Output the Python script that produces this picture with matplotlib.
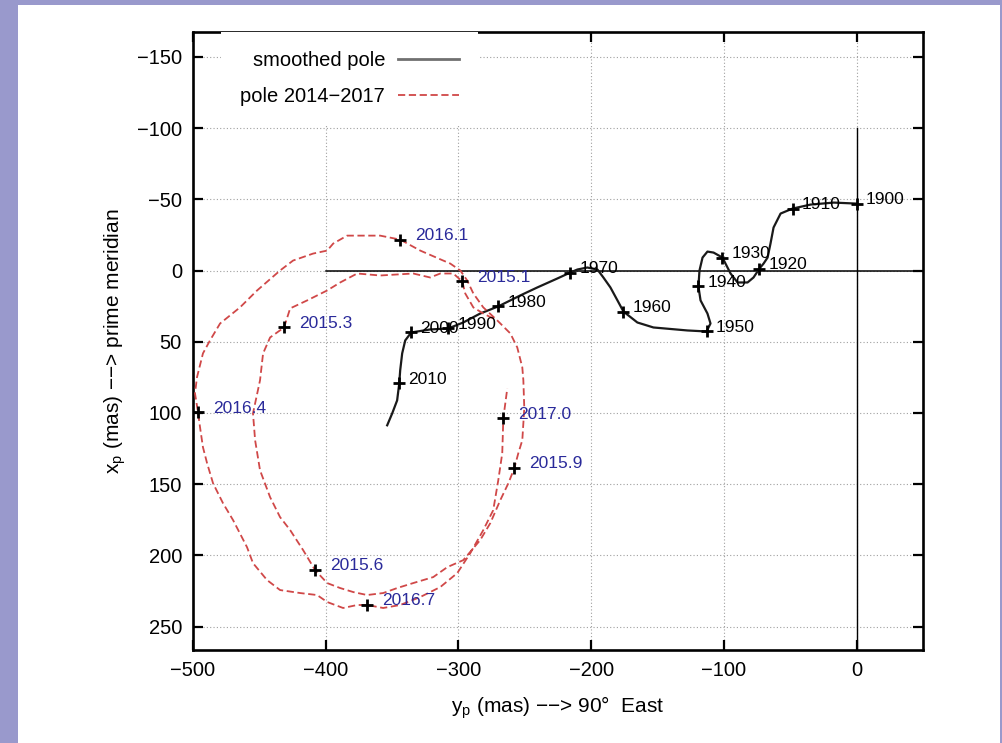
#!/usr/bin/env python3
"""Polar motion: smoothed pole path 1900-2012 and daily pole 2014-2017."""

import matplotlib
matplotlib.use("Agg")
import matplotlib.pyplot as plt
from matplotlib.patches import Rectangle

plt.rcParams["font.family"] = ["Liberation Sans", "DejaVu Sans"]
plt.rcParams["mathtext.fontset"] = "custom"
plt.rcParams["mathtext.rm"] = "Liberation Sans"

# smoothed (secular) pole path, y_p / x_p in mas
smooth_y = [0.0, -17.3, -34.7, -48.3, -57.3, -62.6, -64.9, -67.1, -70.1, -73.2,
            -77.7, -82.2, -89.7, -95.0, -101.1, -107.8, -112.4, -116.1, -118.4, -119.2,
            -117.6, -112.4, -110.1, -113.1, -127.5, -153.1, -165.2, -175.7, -180.2, -185.5,
            -190.8, -195.3, -202.9, -210.4, -215.7, -225.5, -240.6, -253.4, -270.0, -283.6,
            -296.4, -307.7, -321.3, -335.6, -340.1, -342.4, -343.9, -344.6, -346.2, -349.9,
            -353.7]
smooth_x = [-47.0, -47.7, -46.3, -43.5, -40.0, -30.2, -18.9, -9.1, -4.9, -1.4,
            4.9, 8.4, 8.4, 2.1, -9.1, -12.6, -13.3, -9.1, 0.0, 11.2,
            21.0, 30.2, 37.2, 42.8, 42.1, 40.0, 36.5, 28.8, 21.0, 11.9,
            4.9, -0.7, -2.1, -0.7, 1.4, 5.6, 11.9, 17.5, 25.2, 30.2,
            36.5, 40.7, 41.4, 43.5, 49.1, 58.2, 70.1, 79.2, 91.2, 100.3,
            108.7]

decade_labels = ["1900", "1910", "1920", "1930", "1940", "1950",
                 "1960", "1970", "1980", "1990", "2000", "2010"]
decade_y = [0.0, -48.3, -73.2, -101.1, -119.2, -113.1,
            -175.7, -215.7, -270.0, -307.7, -335.6, -344.6]
decade_x = [-47.0, -43.5, -1.4, -9.1, 11.2, 42.8,
            28.8, 1.4, 25.2, 40.7, 43.5, 79.2]

# pole 2014-2017
pole_y = [-273.8, -281.3, -288.8, -294.9, -297.1, -303.9, -313.7, -321.3, -334.1, -359.0,
          -376.3, -389.1, -398.9, -414.0, -426.8, -431.4, -441.9, -447.2, -449.5, -454.8,
          -453.2, -449.5, -441.9, -434.4, -426.8, -417.0, -408.0, -398.9, -389.1, -379.3,
          -368.8, -356.7, -346.2, -334.1, -319.0, -308.4, -296.4, -283.6, -276.0, -268.5,
          -262.4, -257.9, -254.9, -251.9, -250.4, -251.1, -251.9, -255.7, -260.9, -270.7,
          -281.3, -288.8, -293.4, -298.6, -306.2, -311.5, -328.8, -343.9, -359.0, -374.1,
          -383.9, -394.4, -398.9, -409.5, -424.6, -434.4, -451.7, -464.6, -479.6, -487.2,
          -492.5, -497.0, -498.5, -496.2, -494.7, -492.5, -489.4, -484.9, -477.4, -469.8,
          -459.3, -454.8, -444.2, -434.4, -419.3, -406.5, -398.9, -386.9, -376.3, -368.8,
          -356.7, -343.9, -328.8, -313.7, -300.9, -291.1, -281.3, -273.8, -270.0, -267.0,
          -266.2, -263.2]
pole_x = [33.7, 30.2, 25.9, 16.1, 7.7, 2.1, 2.1, 4.9, 2.1, 3.5,
          2.1, 8.4, 14.0, 21.0, 26.6, 40.0, 47.0, 58.2, 77.1, 100.3,
          119.2, 140.3, 159.2, 173.2, 182.3, 196.4, 210.4, 219.5, 223.0, 225.8,
          227.9, 226.5, 223.0, 219.5, 215.3, 208.3, 203.4, 189.3, 177.4, 161.3,
          149.4, 138.8, 128.3, 119.2, 96.8, 77.1, 68.0, 54.0, 44.2, 35.1,
          25.9, 16.1, 7.0, 0.0, -4.9, -7.0, -14.0, -21.7, -24.5, -24.5,
          -24.5, -18.9, -14.0, -11.9, -7.0, 0.0, 14.0, 25.9, 37.2, 49.1,
          58.2, 75.0, 86.3, 99.6, 110.1, 124.1, 135.3, 149.4, 163.4, 175.3,
          194.3, 205.5, 217.4, 224.4, 226.5, 227.9, 232.8, 237.0, 234.9, 234.9,
          237.0, 234.9, 229.3, 222.3, 212.5, 198.5, 182.3, 168.3, 147.3, 128.3,
          103.8, 82.7]

epoch_labels = ["2015.1", "2015.3", "2015.6", "2015.9",
                "2016.1", "2016.4", "2016.7", "2017.0"]
epoch_y = [-297.1, -431.4, -408.0, -257.9, -343.9, -496.2, -368.8, -266.2]
epoch_x = [7.7, 40.0, 210.4, 138.8, -21.7, 99.6, 234.9, 103.8]

fig = plt.figure(figsize=(10.03, 7.43), dpi=100, facecolor="#9999cc")
fig.add_artist(Rectangle((18 / 1003, 0), 982 / 1003, 738 / 743,
                         transform=fig.transFigure, facecolor="white",
                         edgecolor="none", zorder=-10))
ax = fig.add_axes([193 / 1003, 1 - 650 / 743, 730 / 1003, 618 / 743])

ax.plot([-400, 50], [0, 0], color="black", lw=1.1, zorder=2)
ax.plot([0, 0], [-100, 270], color="black", lw=1.0, zorder=2)

ax.plot(smooth_y, smooth_x, color="#1a1a1a", lw=1.6, label="smoothed pole", zorder=3)
ax.plot(pole_y, pole_x, color="#d04848", lw=1.3, ls=(0, (4, 2)),
        label="pole 2014\u22122017", zorder=3)

ax.plot(decade_y, decade_x, ls="none", marker="+", ms=9, mew=2, color="black", zorder=4)
ax.plot(epoch_y, epoch_x, ls="none", marker="+", ms=9, mew=2, color="black", zorder=4)
for lab, xv, yv in zip(decade_labels, decade_y, decade_x):
    ax.annotate(lab, (xv, yv), xytext=(6.5, 3), textcoords="offset points",
                fontsize=12.5, va="center", color="black", zorder=5)
for lab, xv, yv in zip(epoch_labels, epoch_y, epoch_x):
    ax.annotate(lab, (xv, yv), xytext=(11, 3), textcoords="offset points",
                fontsize=12.5, va="center", color="#2a2a9a", zorder=5)

ax.set_xlim(-500, 50)
ax.set_ylim(266.5, -167.5)
ax.set_xticks(range(-500, 1, 100))
ax.set_yticks(range(-150, 251, 50))
ax.grid(True, color="#a0a0a0", lw=0.8, ls=(0, (1, 2)), zorder=0)
ax.tick_params(direction="in", length=7, width=1.6, top=True, right=True,
               labelsize=14.5, pad=8)
for sp in ax.spines.values():
    sp.set_linewidth(1.9)

ax.set_xlabel("y$_\\mathrm{p}$ (mas) \u2212\u2212> 90\u00b0  East", fontsize=15, labelpad=10)
ax.set_ylabel("x$_\\mathrm{p}$ (mas) \u2212\u2212> prime meridian", fontsize=15, labelpad=6)

leg = ax.legend(loc="upper right", bbox_to_anchor=(0.39, 1.0), markerfirst=False,
                fontsize=14.5, frameon=True, fancybox=False, framealpha=1,
                edgecolor="none", handlelength=3.0, handletextpad=0.65,
                borderaxespad=0, borderpad=0.95, labelspacing=0.85)
leg.get_lines()[0].set_color("#707070")
leg.get_lines()[0].set_linewidth(2)
leg.set_zorder(6)

fig.savefig("out.png", dpi=100, facecolor=fig.get_facecolor())
